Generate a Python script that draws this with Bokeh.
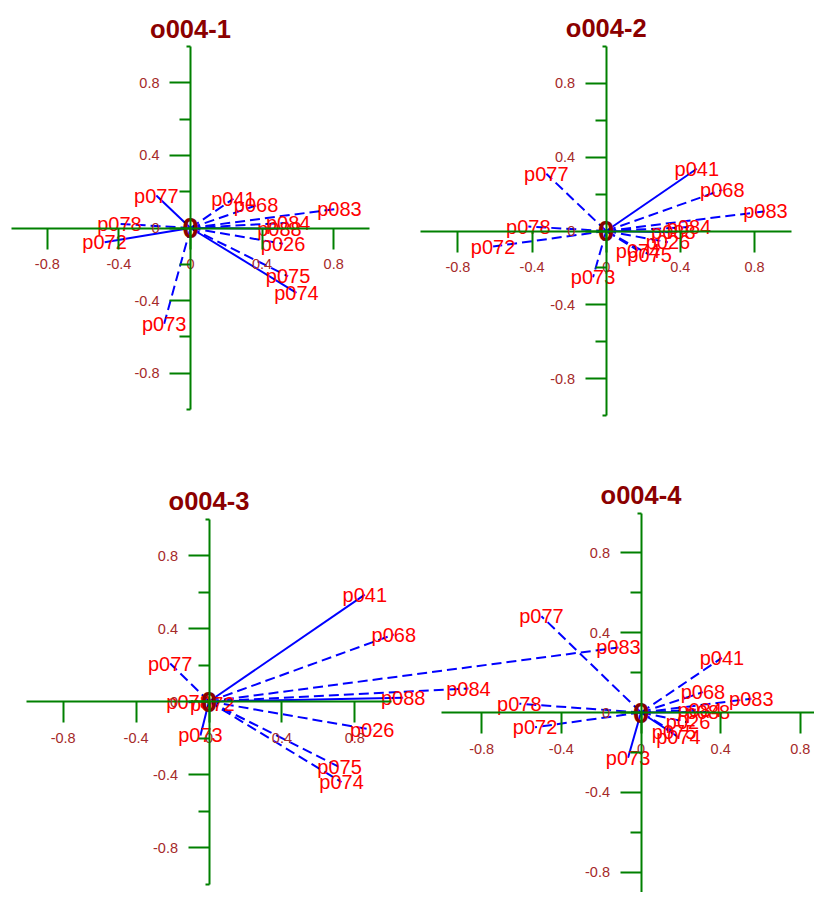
from bokeh.plotting import figure
from bokeh.models import Range1d, LinearAxis, FixedTicker, ColumnDataSource
from bokeh.core.properties import value
from bokeh.embed import file_html
from bokeh.resources import INLINE

# ---------------- data ----------------
variables = ["p026", "p041", "p068", "p072", "p073", "p074",
             "p075", "p077", "p078", "p083", "p084", "p088"]

panel_titles = ["o004-1", "o004-2", "o004-3", "o004-4"]
origin_label = "0"

tick_values = [-0.8, -0.4, 0.0, 0.4, 0.8]
tick_labels = ["-0.8", "-0.4", "0", "0.4", "0.8"]
minor_tick_values = [-0.6, -0.2, 0.2, 0.6]
axis_end_values = [-1.0, 1.0]

x_o004_1 = [0.517, 0.240, 0.366, -0.480, -0.147, 0.592, 0.545, -0.191, -0.397, 0.832, 0.546, 0.497]
y_o004_1 = [-0.087, 0.161, 0.124, -0.078, -0.528, -0.357, -0.266, 0.179, 0.023, 0.107, 0.029, -0.004]

x_o004_2 = [0.333, 0.489, 0.626, -0.610, -0.071, 0.172, 0.234, -0.323, -0.420, 0.859, 0.446, 0.362]
y_o004_2 = [-0.061, 0.337, 0.223, -0.084, -0.250, -0.106, -0.129, 0.310, 0.024, 0.107, 0.021, -0.007]

x_o004_3 = [0.895, 0.855, 1.014, 0.018, -0.047, 0.727, 0.716, -0.213, -0.112, 2.246, 1.423, 1.065]
y_o004_3 = [-0.155, 0.586, 0.367, -0.011, -0.186, -0.442, -0.360, 0.208, -0.004, 0.296, 0.071, 0.020]

x_o004_4 = [0.236, 0.406, 0.311, -0.532, -0.065, 0.188, 0.166, -0.500, -0.611, 0.554, 0.295, 0.336]
y_o004_4 = [-0.049, 0.274, 0.102, -0.074, -0.227, -0.124, -0.099, 0.483, 0.044, 0.069, 0.015, 0.002]

# line style of each vector (S = solid, D = dashed)
style_o004_1 = ["D", "D", "D", "S", "D", "S", "D", "S", "D", "D", "D", "S"]
style_o004_2 = ["D", "S", "D", "D", "D", "D", "D", "D", "D", "D", "D", "S"]
style_o004_3 = ["D", "S", "D", "D", "S", "D", "D", "D", "D", "D", "D", "S"]
style_o004_4 = ["D", "D", "D", "D", "S", "S", "D", "D", "D", "D", "D", "S"]

panel_x = [x_o004_1, x_o004_2, x_o004_3, x_o004_4]
panel_y = [y_o004_1, y_o004_2, y_o004_3, y_o004_4]
panel_style = [style_o004_1, style_o004_2, style_o004_3, style_o004_4]

# ---------------- layout (picture pixels: origin and pixels per unit) ----------------
W, H = 814, 892
OFFSET = 0
layout = [  # (origin_x, px_per_unit_x, origin_y, px_per_unit_y)
    (190.0, 179.0, 227.5, 181.5),
    (605.7, 185.4, 230.5, 184.6),
    (208.5, 182.3, 701.0, 182.5),
    (640.5, 199.2, 712.0, 199.4),
]

FONT = value("Liberation Sans")
GREEN = "#008000"
TICK_COLOR = "#a52a2a"
TITLE_COLOR = "#8b0000"

p = figure(width=W, height=H, output_backend="svg", toolbar_location=None,
           x_axis_type=None, y_axis_type=None,
           x_range=Range1d(0, 1), y_range=Range1d(0, 1),
           min_border=0, min_border_left=0, min_border_right=0,
           min_border_top=0, min_border_bottom=0)
p.outline_line_color = None
p.background_fill_color = "white"
p.border_fill_color = "white"
p.xgrid.visible = False
p.ygrid.visible = False

for k in range(4):
    X0, sx, Y0, sy = layout[k]
    xr, yr = f"x{k}", f"y{k}"
    p.extra_x_ranges[xr] = Range1d((OFFSET - X0) / sx, (OFFSET + W - X0) / sx)
    p.extra_y_ranges[yr] = Range1d((Y0 - (OFFSET + H)) / sy, (Y0 - OFFSET) / sy)

    # axes crossing at the origin
    xa = LinearAxis(x_range_name=xr, y_range_name=yr, fixed_location=0, bounds=(-1, 1),
                    ticker=FixedTicker(ticks=tick_values, minor_ticks=[]),
                    major_label_overrides=dict(zip(tick_values, tick_labels)))
    ya = LinearAxis(x_range_name=xr, y_range_name=yr, fixed_location=0, bounds=(-1, 1),
                    ticker=FixedTicker(ticks=tick_values, minor_ticks=minor_tick_values),
                    major_label_overrides=dict(zip(tick_values, tick_labels)))
    for ax in (xa, ya):
        ax.axis_line_color = GREEN
        ax.axis_line_width = 2
        ax.major_tick_line_color = GREEN
        ax.major_tick_line_width = 2
        ax.minor_tick_line_color = GREEN
        ax.minor_tick_line_width = 2
        ax.major_tick_in = 0
        ax.major_tick_out = 21
        ax.minor_tick_in = 0
        ax.major_label_text_color = TICK_COLOR
        ax.major_label_text_font = "Liberation Sans"
        ax.major_label_text_font_size = "14.5px"
        ax.major_label_standoff = 10
    xa.minor_tick_out = 0
    ya.minor_tick_out = 11
    p.add_layout(xa, "below")
    p.add_layout(ya, "left")

    # short end stubs of the vertical axis
    ye = LinearAxis(x_range_name=xr, y_range_name=yr, fixed_location=0, bounds=(-1, 1),
                    ticker=FixedTicker(ticks=axis_end_values, minor_ticks=[]))
    ye.axis_line_color = None
    ye.major_tick_line_color = GREEN
    ye.major_tick_line_width = 2
    ye.major_tick_in = 0
    ye.major_tick_out = 4
    ye.minor_tick_line_color = None
    ye.major_label_text_font_size = "0px"
    ye.major_label_text_color = None
    p.add_layout(ye, "left")

    xs, ys, st = panel_x[k], panel_y[k], panel_style[k]
    n = len(variables)
    for code, dash in (("S", "solid"), ("D", "10 5")):
        idx = [i for i in range(n) if st[i] == code]
        src = ColumnDataSource(dict(
            x0=[0.0] * len(idx), y0=[0.0] * len(idx),
            x1=[xs[i] for i in idx], y1=[ys[i] for i in idx]))
        p.segment(x0="x0", y0="y0", x1="x1", y1="y1", source=src,
                  x_range_name=xr, y_range_name=yr,
                  line_color="#0000ff", line_width=2, line_dash=dash)

    lab = ColumnDataSource(dict(x=xs, y=ys, name=variables))
    p.text(x="x", y="y", text="name", source=lab, x_range_name=xr, y_range_name=yr,
           text_color="#ff0000", text_font=FONT, text_font_size="20px",
           text_align="center", text_baseline="middle")

    p.text(x=[0.0], y=[0.0], text=[origin_label], x_range_name=xr, y_range_name=yr,
           text_color=TITLE_COLOR, text_font=FONT, text_font_size="30px",
           text_font_style="bold", text_align="center", text_baseline="middle")

    p.text(x=[0.0], y=[1.0], text=[panel_titles[k]], x_range_name=xr, y_range_name=yr,
           text_color=TITLE_COLOR, text_font=FONT, text_font_size="25.5px",
           text_font_style="bold", text_align="center", text_baseline="alphabetic",
           y_offset=-18)

open("out.html", "w").write(file_html(p, INLINE))
